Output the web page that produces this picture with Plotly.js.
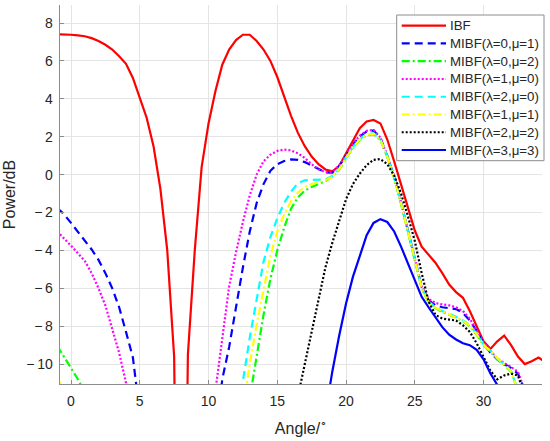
<!DOCTYPE html>
<html>
<head>
<meta charset="utf-8">
<script src="https://cdn.plot.ly/plotly-3.0.1.min.js"></script>
<style>html,body{margin:0;padding:0;background:#fff;}#chart{width:550px;height:441px;}</style>
</head>
<body>
<div id="chart"></div>
<script>
const angles = [-1,-0.5,0,0.5,1,1.5,2,2.5,3,3.5,4,4.5,5,5.5,6,6.5,7,7.5,8,8.5,9,9.5,10,10.5,11,11.5,12,12.5,13,13.5,14,14.5,15,15.5,16,16.5,17,17.5,18,18.5,19,19.5,20,20.5,21,21.5,22,22.5,23,23.5,24,24.5,25,25.5,26,26.5,27,27.5,28,28.5,29,29.5,30,30.5,31,31.5,32,32.5,33,33.5,34,34.5];

const ibf = [7.40,7.40,7.38,7.35,7.30,7.20,7.05,6.85,6.60,6.25,5.85,5.10,4.10,3.00,1.50,-0.75,-4.00,-9.60,-40,-9.50,-4.00,0.40,2.70,4.40,5.80,6.60,7.10,7.38,7.38,7.05,6.60,6.00,5.15,4.10,3.10,2.20,1.50,0.95,0.55,0.27,0.17,0.45,1.10,1.80,2.45,2.80,2.88,2.70,1.85,0.70,-0.50,-1.75,-2.95,-3.80,-4.25,-4.65,-5.20,-5.80,-6.20,-6.50,-7.20,-8.00,-8.80,-9.20,-8.80,-8.50,-9.00,-9.60,-10.00,-9.85,-9.65,-9.90];

const mibf01 = [-1.75,-2.10,-2.55,-3.00,-3.45,-3.95,-4.50,-5.20,-6.00,-7.00,-8.30,-9.65,-12.6,null,null,null,null,null,null,null,null,null,null,-14.0,-10.8,-9.1,-6.9,-4.9,-3.0,-1.5,-0.5,0.20,0.55,0.72,0.80,0.78,0.66,0.48,0.28,0.12,0.10,0.45,1.00,1.58,2.02,2.27,2.33,1.92,0.98,-0.12,-1.48,-2.93,-4.43,-5.93,-6.62,-6.90,-7.00,-7.05,-7.10,-7.30,-7.70,-8.25,-8.90,-9.40,-9.75,-10.00,-10.20,-10.50,-11.40,null,null,null];

const mibf02 = [-9.05,-9.60,-10.20,-10.80,-11.50,-12.40,null,null,null,null,null,null,null,null,null,null,null,null,null,null,null,null,null,null,null,null,null,null,-11.8,-9.6,-7.4,-5.5,-4.0,-2.8,-1.8,-1.2,-0.85,-0.65,-0.50,-0.35,-0.10,0.25,0.85,1.40,1.84,2.08,2.14,1.83,0.93,-0.17,-1.53,-3.00,-4.50,-6.00,-6.75,-7.05,-7.25,-7.40,-7.55,-7.75,-8.00,-8.45,-9.00,-9.35,-9.75,-10.05,-10.40,-11.40,null,null,null,null];

const mibf10 = [-3.00,-3.35,-3.75,-4.15,-4.55,-5.20,-6.00,-6.90,-8.10,-9.40,-11.0,-13.5,null,null,null,null,null,null,null,null,null,null,null,-11.4,-8.7,-5.9,-4.1,-2.5,-1.1,0.00,0.70,1.05,1.25,1.32,1.28,1.12,0.88,0.55,0.28,0.12,0.15,0.47,1.02,1.62,2.06,2.31,2.37,1.95,1.00,-0.10,-1.45,-2.90,-4.40,-5.90,-6.55,-6.78,-6.85,-6.90,-7.00,-7.20,-7.60,-8.20,-8.85,-9.30,-9.70,-9.95,-10.15,-10.40,-11.40,null,null,null];

const mibf20 = [null,null,null,null,null,null,null,null,null,null,null,null,null,null,null,null,null,null,null,null,null,null,null,null,null,null,-13.5,-10.9,-8.6,-6.5,-4.6,-3.3,-2.3,-1.5,-0.9,-0.45,-0.30,-0.28,-0.27,-0.25,-0.08,0.30,0.90,1.45,1.88,2.12,2.18,1.85,0.95,-0.15,-1.50,-2.95,-4.45,-5.95,-6.70,-7.00,-7.20,-7.35,-7.50,-7.70,-7.95,-8.40,-8.95,-9.30,-9.70,-10.00,-10.35,-11.40,null,null,null,null];

const mibf11 = [-10.4,-11.9,null,null,null,null,null,null,null,null,null,null,null,null,null,null,null,null,null,null,null,null,null,null,null,null,null,-12.4,-10.0,-7.9,-6.0,-4.3,-3.0,-2.1,-1.4,-0.95,-0.65,-0.50,-0.40,-0.30,-0.12,0.28,0.88,1.43,1.86,2.10,2.16,1.84,0.94,-0.16,-1.52,-2.98,-4.48,-5.98,-6.72,-7.02,-7.22,-7.38,-7.52,-7.72,-7.98,-8.42,-8.97,-9.33,-9.72,-10.03,-10.38,-11.40,null,null,null,null];

const mibf22 = [null,null,null,null,null,null,null,null,null,null,null,null,null,null,null,null,null,null,null,null,null,null,null,null,null,null,null,null,null,null,null,null,null,null,null,-11.7,-10.0,-8.3,-6.5,-4.9,-3.6,-2.4,-1.3,-0.5,0.05,0.50,0.78,0.82,0.55,-0.05,-1.00,-2.20,-3.50,-5.20,-6.70,-7.40,-7.60,-7.65,-7.70,-7.95,-8.30,-8.90,-9.60,-10.35,-10.80,-10.60,-10.50,-10.60,-11.60,null,null,null];

const mibf33 = [null,null,null,null,null,null,null,null,null,null,null,null,null,null,null,null,null,null,null,null,null,null,null,null,null,null,null,null,null,null,null,null,null,null,null,null,null,null,null,-12.6,-10.4,-8.5,-6.8,-5.4,-4.3,-3.2,-2.55,-2.35,-2.50,-3.00,-3.80,-4.70,-5.50,-6.45,-7.00,-7.55,-8.05,-8.45,-8.70,-8.90,-9.00,-9.25,-9.75,-10.50,-11.10,-12.00,null,null,null,null,null,null];

const seriesNames = ['IBF','MIBF(λ=0,μ=1)','MIBF(λ=0,μ=2)','MIBF(λ=1,μ=0)','MIBF(λ=2,μ=0)','MIBF(λ=1,μ=1)','MIBF(λ=2,μ=2)','MIBF(λ=3,μ=3)'];
const xTickVals = [0,5,10,15,20,25,30];
const xTickText = ['0','5','10','15','20','25','30'];
const yTickVals = [-10,-8,-6,-4,-2,0,2,4,6,8];
const yTickText = ['\u2212\u200910','\u2212\u20098','\u2212\u20096','\u2212\u20094','\u2212\u20092','0','2','4','6','8'];

const seriesValues = [ibf, mibf01, mibf02, mibf10, mibf20, mibf11, mibf22, mibf33];
const styles = [
  {color:'#ff0000', dash:'solid', width:2.2},
  {color:'#0000ff', dash:'8px,5px', width:2.2},
  {color:'#00ff00', dash:'8px,3px,2px,3px', width:2.2},
  {color:'#ff00ff', dash:'2px,2px', width:2.2},
  {color:'#00ffff', dash:'8px,5px', width:2.2},
  {color:'#ffff00', dash:'8px,3px,2px,3px', width:2.2},
  {color:'#000000', dash:'2px,2px', width:2.2},
  {color:'#0000ff', dash:'solid', width:2.2}
];

const traces = seriesValues.map((vals, i) => ({
  x: angles, y: vals, type:'scatter', mode:'lines', name: seriesNames[i],
  line: {color: styles[i].color, dash: styles[i].dash, width: styles[i].width},
  connectgaps: false, showlegend:false
}));

// Layout geometry (pixels)
const W = 550, H = 441;
const M = {l:60, r:8, t:5, b:57};
const plotW = W - M.l - M.r, plotH = H - M.t - M.b;
const px2x = p => (p - M.l) / plotW;
const px2y = p => (H - M.b - p) / plotH;

// Legend box drawn as layout shapes/annotations
const leg = {left:396.7, right:544, top:15, bottom:160.7, firstY:25.7, step:17.76, lineX0:401.7, lineX1:446, textX:448.5};
const fontFam = 'Liberation Sans';
const shapes = [{
  type:'rect', xref:'paper', yref:'paper',
  x0:px2x(leg.left), x1:px2x(leg.right), y0:px2y(leg.bottom), y1:px2y(leg.top),
  line:{color:'#8c8c8c', width:1}, fillcolor:'#ffffff', layer:'above'
}];
const annotations = [];
seriesNames.forEach((nm, i) => {
  const yc = leg.firstY + i * leg.step;
  shapes.push({type:'line', xref:'paper', yref:'paper',
    x0:px2x(leg.lineX0), x1:px2x(leg.lineX1), y0:px2y(yc), y1:px2y(yc),
    line:{color:styles[i].color, dash:styles[i].dash, width:styles[i].width}, layer:'above'});
  annotations.push({xref:'paper', yref:'paper', x:px2x(leg.textX), y:px2y(yc),
    xanchor:'left', yanchor:'middle', text:nm, showarrow:false,
    font:{family:fontFam, size:13.3, color:'#262626'}, borderpad:0});
});

const layout = {
  width:W, height:H,
  margin:M,
  paper_bgcolor:'#ffffff', plot_bgcolor:'#ffffff',
  showlegend:false,
  font:{family:fontFam, color:'#262626'},
  xaxis:{
    range:[-0.8,34.25], tickmode:'array', tickvals:xTickVals, ticktext:xTickText,
    showgrid:true, gridcolor:'#e4e4e4', gridwidth:1, zeroline:false,
    showline:true, linecolor:'#8c8c8c', linewidth:1.3,
    ticks:'inside', ticklen:4, tickcolor:'#8c8c8c', tickwidth:1,
    ticklabelstandoff:4,
    tickfont:{family:fontFam, size:14, color:'#262626'},
    title:{text:'Angle/<sup>\u2218</sup>', font:{family:fontFam, size:16, color:'#262626'}, standoff:14}
  },
  yaxis:{
    range:[-11.05,8.95], tickmode:'array', tickvals:yTickVals, ticktext:yTickText,
    showgrid:true, gridcolor:'#e4e4e4', gridwidth:1, zeroline:false,
    showline:true, linecolor:'#8c8c8c', linewidth:1.3,
    ticks:'inside', ticklen:4, tickcolor:'#8c8c8c', tickwidth:1,
    ticklabelstandoff:3,
    tickfont:{family:fontFam, size:14, color:'#262626'},
    title:{text:'Power/dB', font:{family:fontFam, size:16, color:'#262626'}, standoff:6}
  },
  shapes: shapes,
  annotations: annotations
};

Plotly.newPlot('chart', traces, layout, {displayModeBar:false, staticPlot:true});
</script>
</body>
</html>
